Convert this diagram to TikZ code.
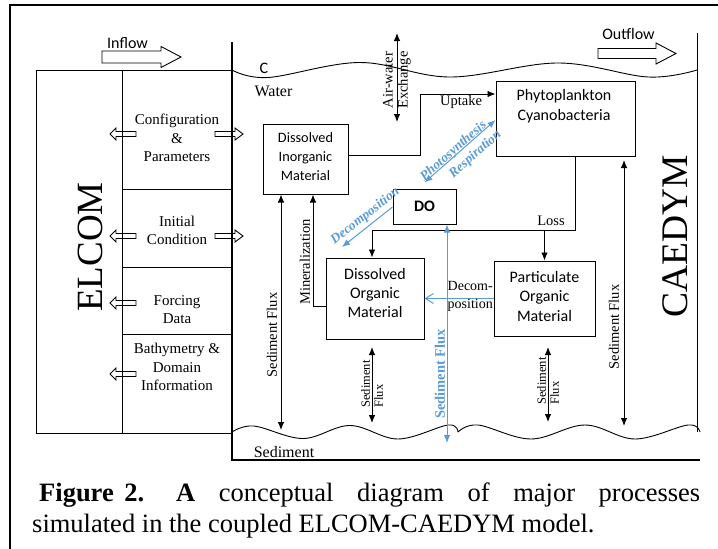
\documentclass[tikz,border=0pt]{standalone}
\usepackage{fontspec}
\setmainfont{Liberation Serif}
\newfontfamily\calfont{Carlito}
\usetikzlibrary{arrows.meta}
\definecolor{blu}{RGB}{91,155,213}
\newcommand{\blockarr}[6]{%
  \draw[line width=0.9pt] (#1,#3-#4) -- (#6,#3-#4) -- (#6,#3-#5) -- (#2,#3) -- (#6,#3+#5) -- (#6,#3+#4) -- (#1,#3+#4) -- cycle;}
\begin{document}
\begin{tikzpicture}[x=1pt,y=-1pt,
  ln/.style={line width=0.9pt},
  arr/.style={ln,-{Latex[length=8pt,width=6.5pt]}},
  darr/.style={ln,{Latex[length=8pt,width=6.5pt]}-{Latex[length=8pt,width=6.5pt]}},
  barr/.style={line width=1pt,draw=blu,-{Latex[length=8pt,width=6.5pt]}},
  bdarr/.style={line width=1pt,draw=blu,{Latex[length=8pt,width=6.5pt]}-{Latex[length=8pt,width=6.5pt]}},
  box/.style={draw,line width=1pt,inner sep=0pt},
  sans/.style={font=\calfont\fontsize{16}{19.5}\selectfont,align=center,inner sep=0pt},
  ser/.style={font=\fontsize{14.5}{18.5}\selectfont,align=center,inner sep=0pt},
  colt/.style={font=\fontsize{15}{18.5}\selectfont,align=center,inner sep=0pt},
  sml/.style={font=\fontsize{12.5}{13}\selectfont,align=left,inner sep=0pt},
  bluetxt/.style={font=\fontsize{13.5}{16}\selectfont\bfseries\itshape,text=blu,inner sep=0pt}
]
\useasboundingbox (0,0) rectangle (718,549);
% frame
\draw[line width=1.3pt] (10,549) -- (10,5);
\draw[line width=2pt] (9.35,5) -- (718,5);

% ELCOM column
\draw[ln] (36,70) rectangle (232,433);
\draw[ln] (122,70) -- (122,433);
\draw[ln] (122,189) -- (232,189);
\draw[ln] (122,267) -- (232,267);
\draw[ln] (122,334) -- (232,334);
\node[rotate=90,font=\fontsize{37}{40}\selectfont,inner sep=0pt] (elcom) at (90,247) {ELCOM};
\node[colt] (cfg) at (177,138) {Configuration\\\&\\Parameters};
\node[colt] (ini) at (177,230.5) {Initial\\Condition};
\node[colt] (frc) at (177,309.5) {Forcing\\Data};
\node[colt] (bat) at (177,367) {Bathymetry \&\\Domain\\Information};
\blockarr{136}{110}{134}{2.5}{6}{116}
\blockarr{136}{110}{236}{2.5}{6}{116}
\blockarr{136}{110}{303}{2.5}{6}{116}
\blockarr{136}{110}{374}{2.5}{6}{116}
\blockarr{215}{243}{134}{2.5}{6}{235}
\blockarr{215}{243}{236}{2.5}{6}{235}

% inflow / outflow
\blockarr{102}{181}{57}{6}{10.5}{161}
\node[sans] (inflow) at (127.5,43) {Inflow};
\blockarr{598}{676}{53.5}{5}{10.5}{656}
\node[sans] (outflow) at (628.5,34) {Outflow};

% domain lines
\draw[line width=2.2pt] (232,42) -- (232,461.1);
\draw[line width=2.2pt] (231,460) -- (700,460);
\draw[ln] (697,33) -- (697,432);
% water surface
\draw[ln] plot[smooth,tension=0.6] coordinates {(232,70) (268,77.5) (360,62.5) (450,77) (558,63) (648,77) (697,70)};
% sediment surface
\draw[ln] plot[smooth,tension=0.6] coordinates {(232,432) (254,426) (303,438.5) (350,425.5) (398,439) (448,425) (458,432)};
\draw[ln] plot[smooth,tension=0.6] coordinates {(458,432) (478,425) (531,439) (585,425) (635,439) (688,425) (700,432)};
\node[sans] (c) at (264,68) {C};
\node[font=\fontsize{16}{18}\selectfont,inner sep=0pt] (water) at (273.5,91) {Water};
\node[font=\fontsize{16}{18}\selectfont,inner sep=0pt] (sed) at (284,452) {Sediment};

% CAEDYM
\node[rotate=90,font=\fontsize{37.5}{40}\selectfont,inner sep=0pt] (caedym) at (675.5,236) {CAEDYM};

% boxes
\node[box,minimum width=85pt,minimum height=70pt] (dim) at (305.5,159) {};
\node[sans,font=\calfont\fontsize{14.3}{19}\selectfont] (dimt) at (305.5,157) {Dissolved\\Inorganic\\Material};
\node[box,minimum width=139pt,minimum height=75pt] (phyto) at (565.5,118.5) {};
\node[sans] (phytot) at (564,106) {Phytoplankton\\Cyanobacteria};
\node[box,minimum width=63pt,minimum height=35pt,font=\calfont\bfseries\fontsize{16}{18}\selectfont] (do) at (424.5,206.5) {DO};
\node[box,minimum width=98pt,minimum height=81pt] (dom) at (375,298.5) {};
\node[sans] (domt) at (375,293) {Dissolved\\Organic\\Material};
\node[box,minimum width=101pt,minimum height=75pt] (pom) at (544.5,298.5) {};
\node[sans] (pomt) at (544.5,296) {Particulate\\Organic\\Material};

% air-water exchange
\coordinate (aw1) at (397,33);
\coordinate (aw2) at (397,122);
\draw[darr] (aw1) -- (aw2);
\node[ser,rotate=90,font=\fontsize{14.5}{15}\selectfont] (awt) at (397,80) {Air-water\\Exchange};

% uptake
\draw[arr] ([yshift=4pt]dim.east) -| ([xshift=-75pt,yshift=24.5pt]phyto.west) -- ([yshift=24.5pt]phyto.west);
\node[ser] (upt) at (461,102) {Uptake};

% loss
\coordinate (lj) at (372,230);
\draw[arr] ([xshift=9.5pt]phyto.south) |- (lj) -- (lj |- dom.north);
\draw[arr] (lj -| pom.north) -- (pom.north);
\node[ser] (loss) at (551,221) {Loss};

% mineralization
\draw[arr] ([yshift=-7.5pt]dom.west) -| ([xshift=7.5pt]dim.south);
\node[ser,rotate=90] (minl) at (305,262) {Mineralization};

% sediment fluxes
\coordinate (sl) at (281,430);
\draw[darr] ([xshift=-24.5pt]dim.south) -- (sl);
\node[ser,rotate=90] (slt) at (272,335) {Sediment Flux};
\coordinate (sd1) at (372,347);
\coordinate (sd2) at (372,423);
\draw[darr] (sd1) -- (sd2);
\node[sml,rotate=90] (sdt) at (372,384) {Sediment\\Flux};
\coordinate (sp1) at (548,347);
\coordinate (sp2) at (548,422);
\draw[darr] (sp1) -- (sp2);
\node[sml,rotate=90] (spt) at (548,381) {Sediment\\Flux};
\coordinate (sr1) at (624,160);
\coordinate (sr2) at (624,426);
\draw[darr] (sr1) -- (sr2);
\node[ser,rotate=90] (srt) at (614,327) {Sediment Flux};

% blue processes
\draw[bdarr] ([yshift=6pt]do.north) -- node[bluetxt,sloped,pos=0.45,anchor=base,yshift=1pt] (ps) {Photosynthesis}
  node[bluetxt,sloped,pos=0.6,anchor=north,yshift=-6pt] (resp) {Respiration} ([yshift=-1.5pt]phyto.west);
\coordinate (dc) at (342,247);
\draw[barr] ([yshift=-0.5pt]do.west) -- node[bluetxt,sloped,pos=0.42,anchor=south,yshift=3pt] (dect) {Decomposition} (dc);
\coordinate (bs) at (447,443);
\draw[bdarr] ([xshift=22.5pt]do.south) -- (bs);
\node[rotate=90,font=\fontsize{14.5}{16}\selectfont\bfseries,text=blu,inner sep=0pt] (bst) at (440,374) {Sediment Flux};
\draw[line width=1pt,draw=blu,-{Straight Barb[length=8pt,width=10pt]}] (pom.west) -- (dom.east);
\node[ser,align=left,anchor=west,font=\fontsize{14}{18}\selectfont] (dpt) at (447.5,296) {Decom-\\position};

% caption
\node[anchor=base west,inner sep=0pt,font=\fontsize{26.5}{30}\selectfont] (cap1) at (39,501)
  {\makebox[661pt][s]{\textbf{Figure\hspace{0.4em}2.}\hspace{1.2em}\textbf{A} conceptual diagram of major processes}};
\node[anchor=base west,inner sep=0pt,font=\fontsize{26.5}{30}\selectfont] (cap2) at (32,532)
  {simulated in the coupled ELCOM-CAEDYM model.};
\end{tikzpicture}
\end{document}
